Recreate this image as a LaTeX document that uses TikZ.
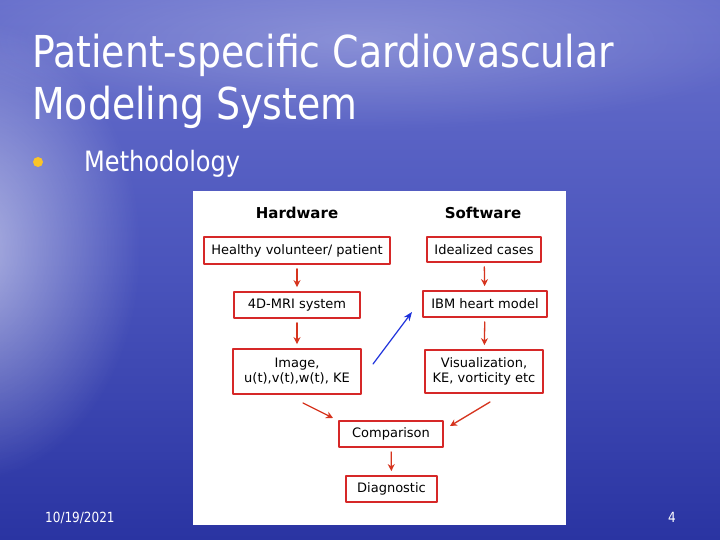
\documentclass[tikz,border=0pt]{standalone}
\usepackage{fontspec}
\setmainfont{DejaVu Sans}
\newfontfamily\slidefont{DejaVu Sans}[FakeStretch=0.86]
\usetikzlibrary{arrows.meta,positioning,fadings}
\definecolor{skytop}{RGB}{104,112,204}
\definecolor{skymid}{RGB}{74,84,188}
\definecolor{skybottom}{RGB}{42,52,162}
\definecolor{boxred}{RGB}{214,40,40}
\definecolor{arrowred}{RGB}{214,52,30}
\definecolor{modelblue}{RGB}{30,50,220}
\definecolor{bulletgold}{RGB}{250,196,40}
\newcommand{\fs}[1]{\fontsize{#1}{1.15\dimexpr#1pt\relax}\selectfont}
\tikzfading[name=skyglow,inner color=transparent!0,outer color=transparent!100]

\begin{document}
\begin{tikzpicture}[x=1pt,y=-1pt,line cap=round,line join=round,
  stepbox/.style={draw=boxred,line width=1.8pt,fill=white,inner sep=0pt,
    font=\fs{13},align=center},
  flow/.style={-{Stealth[length=7pt,width=7pt]},draw=arrowred,line width=1.3pt},
  slidetext/.style={anchor=base west,inner sep=0pt,text=white,font=\slidefont\fs{44}}]
  \useasboundingbox (0,0) rectangle (720,540);

  % background
  \shade[top color=skytop,bottom color=skybottom,middle color=skymid]
    (0,0) rectangle (720,540);
  \fill[white,opacity=0.55,path fading=skyglow] (-30,250) ellipse (170 and 230);
  \fill[white,opacity=0.25,path fading=skyglow] (360,40) ellipse (420 and 90);

  % title
  \node[slidetext] (t1) at (32,68) {Patient-specific Cardiovascular};
  \node[slidetext] (t2) at (32,120) {Modeling System};
  \fill[bulletgold] (38,162) circle (5);
  \node[slidetext,font=\slidefont\fs{28}] (bullet) at (84,172) {Methodology};

  % footer
  \node[slidetext,font=\slidefont\fs{14}] (date) at (45,522) {10/19/2021};
  \node[slidetext,font=\slidefont\fs{14}] (page) at (668,522) {4};

  % panel
  \fill[white] (193,191) rectangle (566,525);
  \node[font=\bfseries\fs{15}] (hw) at (297,213) {Hardware};
  \node[font=\bfseries\fs{15}] (sw) at (483,213) {Software};

  % boxes
  \node[stepbox,minimum width=186,minimum height=27] (patient) at (297,250.5)
    {Healthy volunteer/ patient};
  \node[stepbox,minimum width=114,minimum height=25] (ideal) at (484,249.5)
    {Idealized cases};
  \node[stepbox,minimum width=126,minimum height=26] (mri) at (297,305)
    {4D-MRI system};
  \node[stepbox,minimum width=124,minimum height=26] (ibm) at (485,304)
    {IBM heart model};
  \node[stepbox,minimum width=128,minimum height=45] (image) at (297,371.5)
    {Image,\\u(t),v(t),w(t), KE};
  \node[stepbox,minimum width=118,minimum height=43] (vis) at (484,371.5)
    {Visualization,\\KE, vorticity etc};
  \node[stepbox,minimum width=104,minimum height=26] (comp) at (391,434)
    {Comparison};
  \node[stepbox,minimum width=91,minimum height=26] (diag) at (391.5,489)
    {Diagnostic};

  % arrow ends
  \coordinate (imgout) at (303,403);
  \coordinate (compleft) at (333,418);
  \coordinate (visout) at (490,402);
  \coordinate (compright) at (450,426);
  \coordinate (blueout) at (373,364);
  \coordinate (bluein) at (412,312);

  % arrows
  \draw[flow,shorten <=4pt,shorten >=4pt] (patient) -- (mri);
  \draw[flow,shorten <=4pt,shorten >=4pt] (mri) -- (image);
  \draw[flow,shorten <=4pt,shorten >=4pt] (ideal) -- (ibm);
  \draw[flow,shorten <=4pt,shorten >=4pt] (ibm) -- (vis);
  \draw[flow] (imgout) -- (compleft);
  \draw[flow] (visout) -- (compright);
  \draw[flow,shorten <=4pt,shorten >=4pt] (comp) -- (diag);
  \draw[-{Stealth[length=9pt,width=7pt]},modelblue,line width=1.2pt]
    (blueout) -- (bluein);
\end{tikzpicture}
\end{document}
